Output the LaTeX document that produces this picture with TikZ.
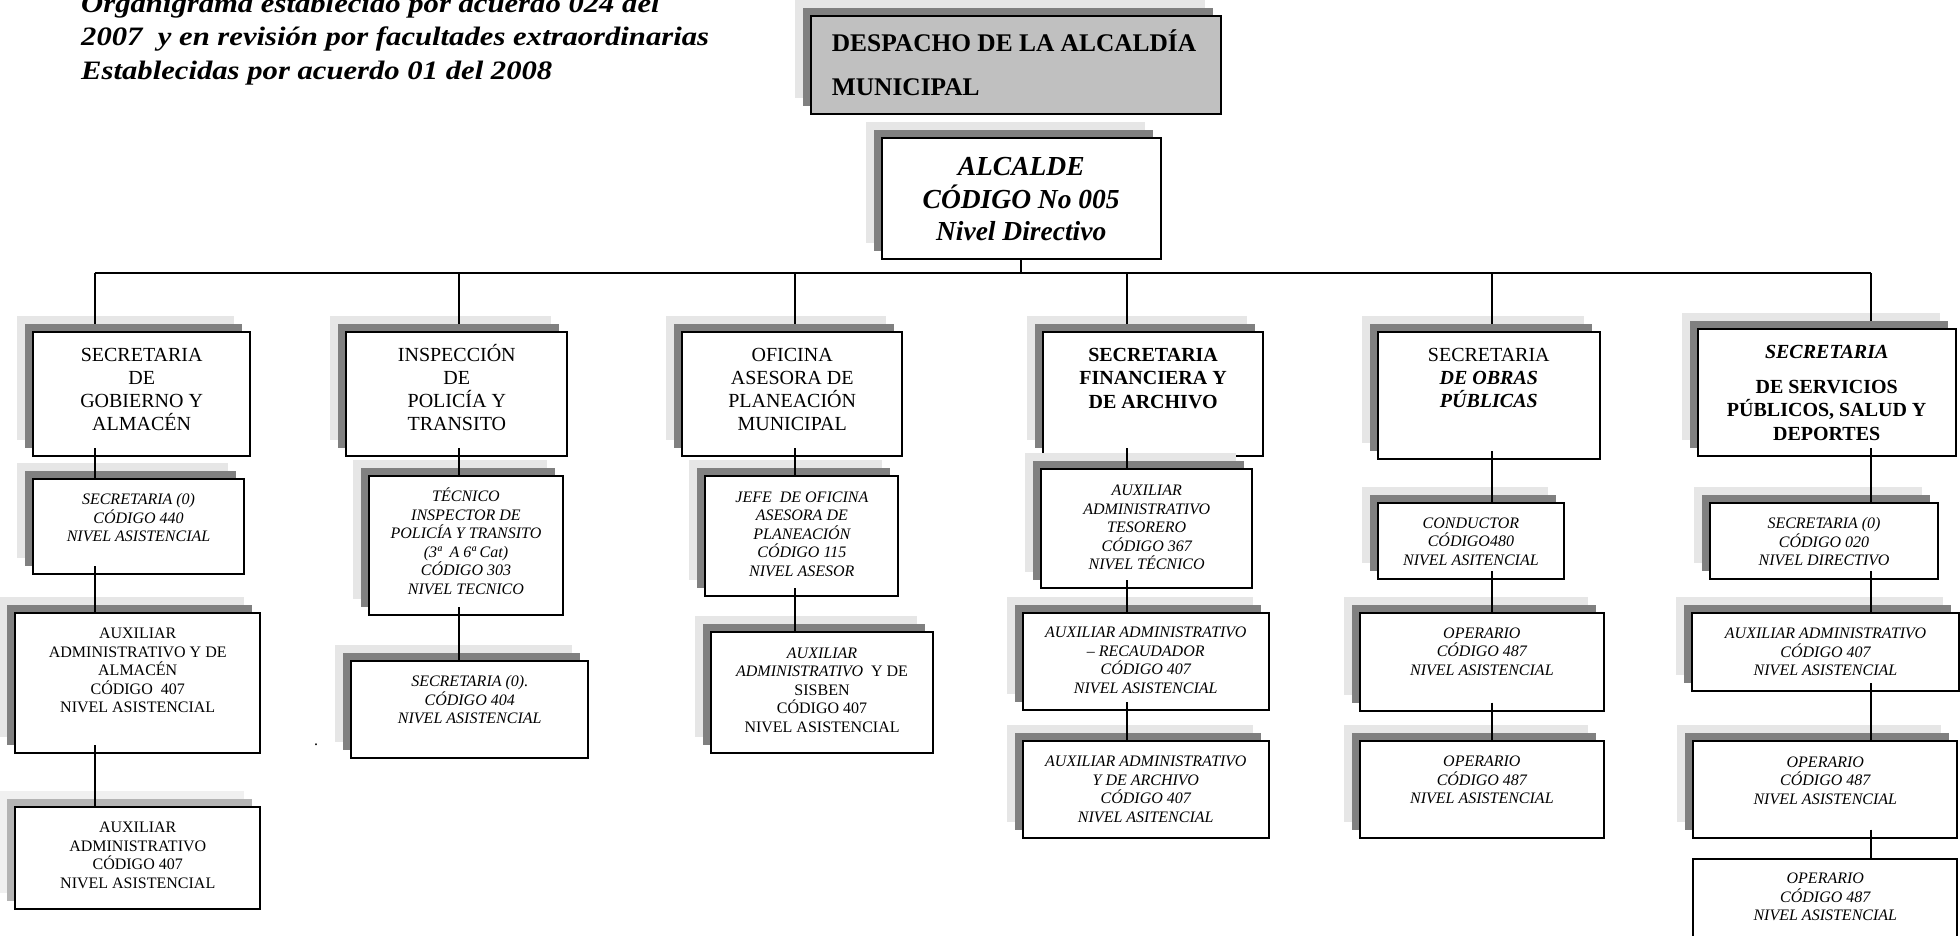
\documentclass[tikz,border=0pt]{standalone}
\usepackage{fontspec}
\setmainfont{Liberation Serif}
\definecolor{shd}{HTML}{808080}
\definecolor{shl}{HTML}{E6E6E6}
\definecolor{shdlite}{HTML}{B4B4B4}
\definecolor{shllite}{HTML}{F0F0F0}
\definecolor{despfill}{HTML}{C0C0C0}
\tikzset{
  shA/.style={fill=shl},
  shB/.style={fill=shd},
  bx/.style={draw=black, line width=2pt, fill=white, inner sep=0pt, outer sep=0pt},
  cn/.style={draw=black, line width=2pt},
  tb/.style={anchor=north, align=center, inner sep=0pt, font=\fontsize{20}{23}\selectfont},
  tbb/.style={tb, font=\fontsize{20}{23.5}\selectfont\bfseries},
  ts/.style={anchor=north, align=center, inner sep=0pt, font=\fontsize{16}{18.5}\selectfont},
  tsi/.style={ts, font=\fontsize{16}{18.5}\selectfont\itshape},
  talc/.style={anchor=north, align=center, inner sep=0pt, font=\fontsize{27.5}{32.8}\selectfont\bfseries\itshape},
}
% #1 name, #2 x1, #3 y1, #4 x2, #5 y2, #6 text inset, #7 text style, #8 text
\newcommand\obox[8]{%
  \fill[shA] ({#2-16},{#3-16}) rectangle ({#4-16},{#5-16});
  \fill[shB] ({#2-8},{#3-8}) rectangle ({#4-8},{#5-8});
  \node[bx, minimum width={(#4-#2)*1pt}, minimum height={(#5-#3)*1pt}, anchor=north west] (#1) at (#2,#3) {};
  \node[#7] (#1t) at ([yshift={-#6pt}]#1.north) {\rule{0pt}{1em}#8};
}
\begin{document}
\begin{tikzpicture}[x=1pt, y=-1pt]
\clip (0,0) rectangle (1960,935);
\useasboundingbox (0,0) rectangle (1960,935);

% title
\node[anchor=north west, inner sep=0pt, font=\fontsize{26.6}{33.6}\selectfont\bfseries\itshape] (title) at (81,-11.5)
  {\scalebox{1.153}[1]{\begin{tabular}{@{}l@{}}Organigrama establecido por acuerdo 024 del\\2007 \ y en revisión por facultades extraordinarias\\Establecidas por acuerdo 01 del 2008\end{tabular}}};

% despacho
\fill[shl] (794.7,0) rectangle (1204.7,98);
\fill[shd] (802.7,8) rectangle (1212.7,106);
\node[bx, fill=despfill, minimum width=410pt, minimum height=98pt, anchor=north west] (desp) at (810.7,16) {};
\node[anchor=north west, align=left, inner sep=0pt, font=\fontsize{25.4}{43.3}\selectfont\bfseries] (despt) at (831.7,26.3)
  {\rule{0pt}{1em}DESPACHO DE LA ALCALDÍA\\MUNICIPAL};

% alcalde
\obox{alc}{881.7}{138}{1160.7}{259}{9.5}{talc}{ALCALDE\\CÓDIGO No 005\\Nivel Directivo}

% column B
\obox{B1}{33.3}{331.7}{250}{456}{9.2}{tb}{SECRETARIA\\DE\\GOBIERNO Y\\ALMACÉN}
\obox{B2}{33.3}{479}{243.8}{574.3}{9.3}{tsi}{SECRETARIA (0)\\CÓDIGO 440\\NIVEL ASISTENCIAL}
\obox{B3}{15.3}{612.7}{260.2}{753.3}{9.6}{ts}{AUXILIAR\\ADMINISTRATIVO Y DE\\ALMACÉN\\CÓDIGO \ 407\\NIVEL ASISTENCIAL}
\begin{scope}[shA/.style={fill=shllite}, shB/.style={fill=shdlite}]
\obox{B4}{15.3}{806.7}{260.2}{909.3}{9.6}{ts}{AUXILIAR\\ADMINISTRATIVO\\CÓDIGO 407\\NIVEL ASISTENCIAL}
\end{scope}
\node[ts, anchor=base] (dot) at (316,745) {.};

% column C
\obox{C1}{346.4}{331.7}{567.2}{456}{9.2}{tb}{INSPECCIÓN\\DE\\POLICÍA Y\\TRANSITO}
\obox{C2}{369.3}{475.7}{562.6}{615}{9.6}{tsi}{TÉCNICO\\INSPECTOR DE\\POLICÍA Y TRANSITO\\(3ª \ A 6ª Cat)\\CÓDIGO 303\\NIVEL TECNICO}
\obox{C3}{351.3}{661}{588.2}{758.3}{9.3}{tsi}{SECRETARIA (0).\\CÓDIGO 404\\NIVEL ASISTENCIAL}

% column D
\obox{D1}{682}{331.7}{902.4}{456}{9.2}{tb}{OFICINA\\ASESORA DE\\PLANEACIÓN\\MUNICIPAL}
\obox{D2}{705.3}{475.7}{898.4}{596}{10.3}{tsi}{JEFE \ DE OFICINA\\ASESORA DE\\PLANEACIÓN\\CÓDIGO 115\\NIVEL ASESOR}
\obox{D3}{711.4}{632.3}{932.7}{753.3}{9.7}{ts}{\textit{AUXILIAR}\\\textit{ADMINISTRATIVO} \ Y DE\\SISBEN\\CÓDIGO 407\\NIVEL ASISTENCIAL}

% column E
\obox{E1}{1042.9}{331.7}{1263.3}{456}{9.2}{tbb}{SECRETARIA\\FINANCIERA Y\\DE ARCHIVO}
\obox{E2}{1041.2}{469.3}{1252.2}{588.3}{10}{tsi}{AUXILIAR\\ADMINISTRATIVO\\TESORERO\\CÓDIGO 367\\NIVEL TÉCNICO}
\obox{E3}{1022.9}{612.7}{1268.6}{710}{9}{tsi}{AUXILIAR ADMINISTRATIVO\\– RECAUDADOR\\CÓDIGO 407\\NIVEL ASISTENCIAL}
\obox{E4}{1022.9}{741}{1268.6}{838.2}{9.7}{tsi}{AUXILIAR ADMINISTRATIVO\\Y DE ARCHIVO\\CÓDIGO 407\\NIVEL ASITENCIAL}

% column F
\obox{F1}{1377.9}{331.7}{1599.7}{459.3}{9.2}{tb}{SECRETARIA\\\textbf{\textit{DE OBRAS}}\\\textbf{\textit{PÚBLICAS}}}
\obox{F2}{1377.9}{502.7}{1563.9}{579.3}{9.3}{tsi}{CONDUCTOR\\CÓDIGO480\\NIVEL ASITENCIAL}
\obox{F3}{1359.8}{612.7}{1603.9}{710.7}{9.3}{tsi}{OPERARIO\\CÓDIGO 487\\NIVEL ASISTENCIAL}
\obox{F4}{1359.8}{741}{1603.9}{838.2}{9.7}{tsi}{OPERARIO\\CÓDIGO 487\\NIVEL ASISTENCIAL}

% column G
\obox{G1}{1697.7}{329}{1955.7}{456}{9.3}{tbb}{\textit{SECRETARIA}\\[11pt]DE SERVICIOS\\PÚBLICOS, SALUD Y\\DEPORTES}
\obox{G2}{1710.4}{503.3}{1937.6}{579.3}{9.3}{tsi}{SECRETARIA (0)\\CÓDIGO 020\\NIVEL DIRECTIVO}
\obox{G3}{1691.7}{612.7}{1959.3}{691}{9.9}{tsi}{AUXILIAR ADMINISTRATIVO\\CÓDIGO 407\\NIVEL ASISTENCIAL}
\obox{G4}{1693.3}{741}{1957.3}{837.7}{10}{tsi}{OPERARIO\\CÓDIGO 487\\NIVEL ASISTENCIAL}
\begin{scope}[shA/.style={fill=none}, shB/.style={fill=none}]
\obox{G5}{1693.3}{859.3}{1957.3}{960}{8.3}{tsi}{OPERARIO\\CÓDIGO 487\\NIVEL ASISTENCIAL}
\end{scope}

% connectors
\coordinate (xB) at (94.5,273);
\coordinate (xC) at (459.2,273);
\coordinate (xD) at (794.7,273);
\coordinate (xE) at (1126.5,273);
\coordinate (xF) at (1491.5,273);
\coordinate (xG) at (1871,273);
\draw[cn] (xB) -- (xG);
\draw[cn] (alc.south) -- (alc.south |- xB);
\foreach \c/\b in {B/B1, C/C1, D/D1, E/E1, F/F1, G/G1}
  \draw[cn] (x\c) -- ([yshift=8pt]x\c |- \b.north);
\foreach \c/\p/\q in {B/B1/B2, B/B2/B3, B/B3/B4, C/C1/C2, C/C2/C3, D/D1/D2, D/D2/D3,
    E/E1/E2, E/E2/E3, E/E3/E4, F/F1/F2, F/F2/F3, F/F3/F4, G/G1/G2, G/G2/G3, G/G3/G4, G/G4/G5}
  \draw[cn] ([yshift=8pt]x\c |- \p.south) -- (x\c |- \q.north);
\end{tikzpicture}
\end{document}
